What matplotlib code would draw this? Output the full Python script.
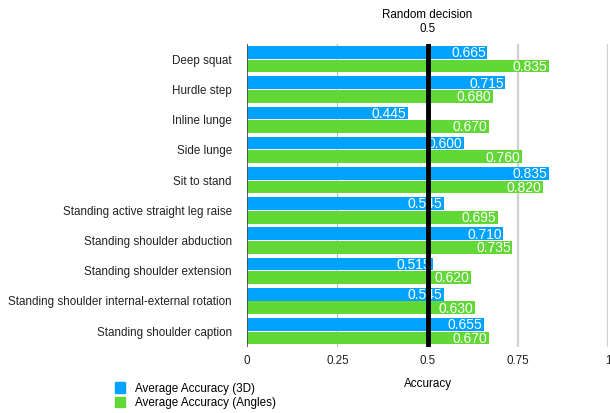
import numpy as np
import matplotlib
matplotlib.use("Agg")
import matplotlib.pyplot as plt
from matplotlib.patches import Patch

categories = [
    "Deep squat", "Hurdle step", "Inline lunge", "Side lunge", "Sit to stand",
    "Standing active straight leg raise", "Standing shoulder abduction",
    "Standing shoulder extension", "Standing shoulder internal-external rotation",
    "Standing shoulder caption",
]
acc_3d = [0.665, 0.715, 0.445, 0.600, 0.835, 0.545, 0.710, 0.515, 0.545, 0.655]
acc_angles = [0.835, 0.680, 0.670, 0.760, 0.820, 0.695, 0.735, 0.620, 0.630, 0.670]
series_names = ["Average Accuracy (3D)", "Average Accuracy (Angles)"]
x_ticks = [0, 0.25, 0.5, 0.75, 1]
x_tick_labels = ["0", "0.25", "0.5", "0.75", "1"]
random_level = 0.5

BLUE = "#00A2FF"
GREEN = "#61D836"

plt.rcParams["font.family"] = ["Liberation Sans", "DejaVu Sans"]
plt.rcParams["font.size"] = 8.4

fig = plt.figure(figsize=(6.1, 4.13), dpi=100)
ax = fig.add_axes([0.405, 0.16, 0.592, 0.733])

n = len(categories)
y = np.arange(n)
h = 0.42
off = 0.225
ax.barh(y - off, acc_3d, height=h, color=BLUE, zorder=2)
ax.barh(y + off, acc_angles, height=h, color=GREEN, zorder=2)

for yi, v in zip(y - off, acc_3d):
    ax.text(v - 0.004, yi + 0.03, f"{v:.3f}", color="white", fontsize=10,
            ha="right", va="center", zorder=3)
for yi, v in zip(y + off, acc_angles):
    ax.text(v - 0.004, yi + 0.03, f"{v:.3f}", color="white", fontsize=10,
            ha="right", va="center", zorder=3)

ax.set_ylim(n - 0.5 + 0.02, -0.5)
ax.set_xlim(0, 1)
ax.set_yticks(y)
ax.set_yticklabels(categories)
ax.set_xticks(x_ticks)
ax.set_xticklabels(x_tick_labels)
ax.tick_params(axis="both", length=0, pad=6, colors="#222222")
ax.tick_params(axis="y", pad=11)

ax.axvline(0.25, color="#b8b8b8", lw=0.8, zorder=1)
ax.axvline(0.75, color="#d0d0d0", lw=1.6, zorder=1)
ax.axvline(1.0, color="#d0d0d0", lw=1.6, zorder=1)
ax.axvline(random_level, color="black", lw=3.5, zorder=4)
ax.axvline(0, color="#444444", lw=1.2, zorder=4)

for s in ax.spines.values():
    s.set_visible(False)

ax.text(random_level, 1.03, "Random decision\n0.5", transform=ax.get_xaxis_transform(),
        ha="center", va="bottom", fontsize=8.4, linespacing=1.25)
ax.set_xlabel("Accuracy", labelpad=8)

handles = [Patch(color=BLUE), Patch(color=GREEN)]
fig.legend(handles, series_names, loc="lower left", bbox_to_anchor=(0.172, -0.016),
           frameon=False, handlelength=0.8, handleheight=1.0, handletextpad=0.9,
           labelspacing=0.2, fontsize=8.4)

fig.savefig("out.png", dpi=100)
